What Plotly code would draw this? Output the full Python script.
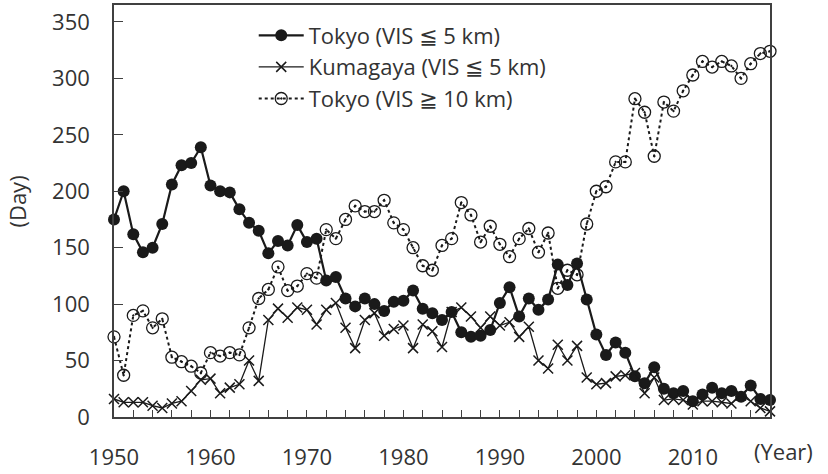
import plotly.graph_objects as go

years = list(range(1950, 2019))

tokyo_vis_le5 = [175, 200, 162, 146, 150, 171, 206, 223, 225, 239,
                 205, 200, 199, 184, 172, 165, 145, 156, 152, 170,
                 155, 158, 121, 124, 105, 98, 105, 100, 94, 102,
                 103, 112, 96, 92, 86, 93, 75, 71, 72, 77,
                 101, 115, 89, 105, 95, 104, 135, 117, 136, 104,
                 73, 55, 66, 57, 36, 30, 44, 25, 21, 23,
                 14, 20, 26, 21, 23, 18, 28, 16, 15]

kumagaya_vis_le5 = [16, 13, 13, 13, 10, 8, 12, 14, 23, 33,
                    34, 21, 26, 29, 50, 32, 86, 96, 88, 97,
                    95, 82, 95, 101, 79, 61, 86, 92, 72, 78,
                    81, 61, 82, 76, 62, 93, 97, 89, 79, 89,
                    81, 84, 71, 80, 50, 43, 64, 50, 63, 35,
                    29, 30, 36, 37, 39, 21, 35, 15, 16, 15,
                    11, 14, 14, 13, 12, 19, 14, 8, 5]

tokyo_vis_ge10 = [71, 37, 90, 94, 79, 87, 53, 49, 45, 39,
                  57, 54, 57, 55, 79, 105, 113, 133, 112, 116,
                  127, 123, 166, 158, 175, 187, 182, 182, 192, 172,
                  166, 150, 134, 130, 152, 158, 190, 179, 155, 169,
                  153, 142, 158, 167, 146, 163, 114, 130, 126, 171,
                  200, 204, 226, 226, 282, 270, 231, 279, 271, 289,
                  303, 315, 310, 315, 311, 300, 313, 322, 324]

series_names = ["Tokyo (VIS ≦ 5 km)", "Kumagaya (VIS ≦ 5 km)", "Tokyo (VIS ≧ 10 km)"]
x_tick_vals = [1950, 1960, 1970, 1980, 1990, 2000, 2010]
y_tick_vals = [0, 50, 100, 150, 200, 250, 300, 350]

INK = "#1a1a1a"
TXT = "#333333"
FONT = "Open Sans, DejaVu Sans, sans-serif"

fig = go.Figure()

fig.add_trace(go.Scatter(
    x=years, y=tokyo_vis_le5, name=series_names[0], mode="lines+markers",
    line=dict(color=INK, width=2.2),
    marker=dict(symbol="circle", size=12, color=INK),
    cliponaxis=False,
))
fig.add_trace(go.Scatter(
    x=years, y=kumagaya_vis_le5, name=series_names[1], mode="lines+markers",
    line=dict(color=INK, width=1.3),
    marker=dict(symbol="x-thin", size=10, color=INK, line=dict(color=INK, width=1.5)),
    cliponaxis=False,
))
fig.add_trace(go.Scatter(
    x=years, y=tokyo_vis_ge10, name=series_names[2], mode="lines+markers",
    line=dict(color=INK, width=2, dash="dot"),
    marker=dict(symbol="circle-open-dot", size=12, color=INK, line=dict(color=INK, width=1.3)),
    cliponaxis=False,
))

fig.update_layout(
    width=828, height=474, autosize=False,
    margin=dict(l=114, r=58, t=3, b=52),
    paper_bgcolor="white", plot_bgcolor="white",
    font=dict(family=FONT, size=22, color=TXT),
    showlegend=True,
    legend=dict(
        x=0.213, y=0.977, xanchor="left", yanchor="top",
        bgcolor="rgba(255,255,255,0)", borderwidth=0,
        font=dict(family=FONT, size=22, color=TXT),
        itemwidth=45, tracegroupgap=0,
    ),
    xaxis=dict(
        range=[1950, 2018], tickmode="array", tickvals=x_tick_vals,
        ticks="inside", ticklen=7, tickwidth=1.3, tickcolor="#404040",
        minor=dict(tickmode="linear", tick0=1950, dtick=2, ticks="inside",
                   ticklen=7, tickwidth=1.3, tickcolor="#404040"),
        showline=True, linecolor="#404040", linewidth=1.6, mirror=True,
        showgrid=False, zeroline=False,
        ticklabelstandoff=20,
        tickfont=dict(family=FONT, size=22, color=TXT),
    ),
    yaxis=dict(
        range=[0, 365], tickmode="array", tickvals=y_tick_vals,
        ticks="inside", ticklen=9, tickwidth=1.3, tickcolor="#404040",
        showline=True, linecolor="#404040", linewidth=1.6, mirror=True,
        showgrid=False, zeroline=False,
        ticklabelstandoff=18,
        tickfont=dict(family=FONT, size=22, color=TXT),
    ),
    annotations=[
        dict(text="(Year)", xref="paper", yref="paper", x=1.021, y=-0.0835,
             xanchor="center", yanchor="middle", showarrow=False,
             font=dict(family=FONT, size=22, color=TXT)),
        dict(text="(Day)", xref="paper", yref="paper", x=-0.148, y=0.5227,
             xanchor="center", yanchor="middle", showarrow=False, textangle=-90,
             font=dict(family=FONT, size=22, color=TXT)),
    ],
)

fig.write_html("out.html")
